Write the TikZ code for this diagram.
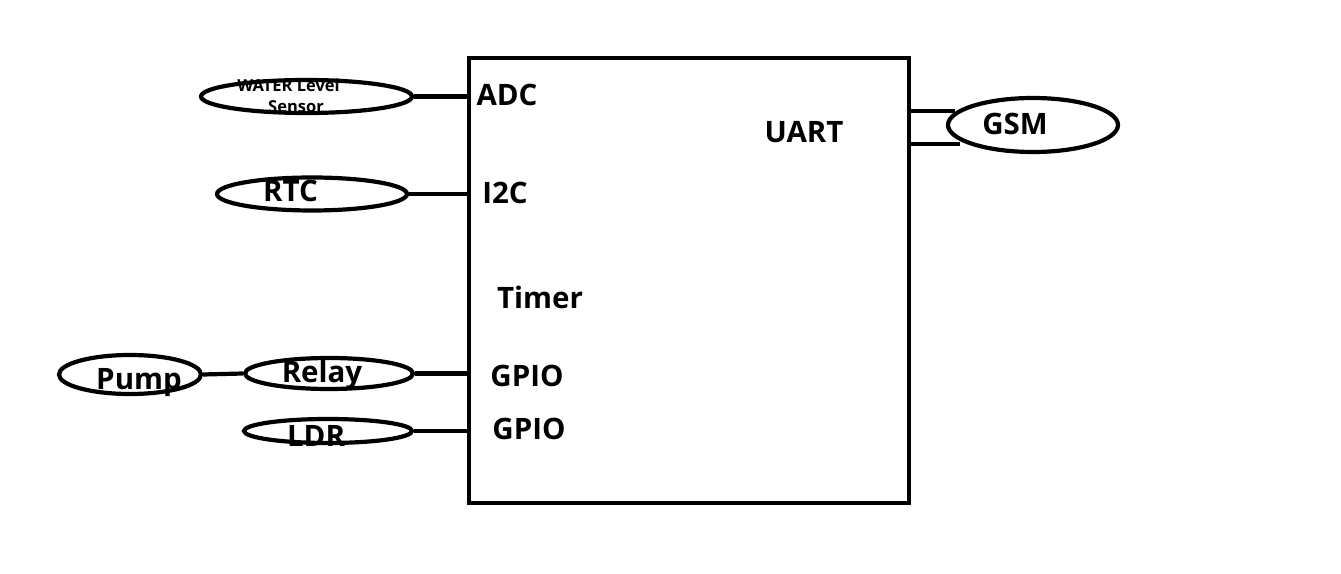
\documentclass[tikz,border=0pt]{standalone}
\usepackage{fontspec}
\setmainfont{Open Sans}[BoldFont={Open Sans Bold}]
\usetikzlibrary{shapes.geometric}
\begin{document}
\begin{tikzpicture}[x=1pt,y=1pt,
  oval/.style={draw, ellipse, line width=4.2pt, inner sep=0pt},
  lbl/.style={anchor=base, inner sep=0pt, font=\fontsize{29.5}{31}\selectfont\bfseries},
  small/.style={anchor=base, inner sep=0pt, font=\fontsize{16.5}{18}\selectfont\bfseries},
  wire/.style={line width=4.2pt}]
\useasboundingbox (0,0) rectangle (1341,573);
% main block
\node[draw, line width=4.8pt, minimum width=440pt, minimum height=445pt, inner sep=0pt] (mcu) at (689,292.5) {};
% block labels
\node[lbl] (adc) at (507,467) {ADC};
\node[lbl] (uart) at (804,430) {UART};
\node[lbl] (i2c) at (505,369) {I2C};
\node[lbl] (timer) at (540,264) {Timer};
\node[lbl] (gpioa) at (527,186) {GPIO};
\node[lbl] (gpiob) at (529,133) {GPIO};
% peripheral labels
\node[small] (wl1) at (288.5,481) {WATER Level};
\node[small] (wl2) at (296,460) {Sensor};
\node[lbl] (rtcl) at (290.5,371) {RTC};
\node[lbl] (pumpl) at (139,183) {Pump};
\node[lbl] (relayl) at (322,190) {Relay};
\node[lbl] (ldrl) at (316,126) {LDR};
\node[lbl] (gsml) at (1015,438) {GSM};
% peripheral ovals
\node[oval, minimum width=211pt, minimum height=33pt] (water) at (306.5,476.5) {};
\node[oval, minimum width=190pt, minimum height=33pt] (rtc) at (312,379) {};
\node[oval, minimum width=142pt, minimum height=39pt] (pump) at (130,198.5) {};
\node[oval, minimum width=168pt, minimum height=31pt] (relay) at (329,199.5) {};
\node[oval, minimum width=168pt, minimum height=24pt] (ldr) at (328,142) {};
\node[oval, minimum width=170pt, minimum height=54pt] (gsm) at (1033,448) {};
% connectors
\draw[wire] (water.east) -- (water.east -| mcu.west);
\draw[wire] (rtc.east) -- (rtc.east -| mcu.west);
\draw[wire] (relay.east) -- (relay.east -| mcu.west);
\draw[wire] (ldr.east) -- (ldr.east -| mcu.west);
\draw[wire] (pump.east) -- (relay.west);
\coordinate (g1) at (955,462);
\coordinate (g2) at (960,429);
\draw[wire] (g1 -| mcu.east) -- (g1);
\draw[wire] (g2 -| mcu.east) -- (g2);
\end{tikzpicture}
\end{document}
